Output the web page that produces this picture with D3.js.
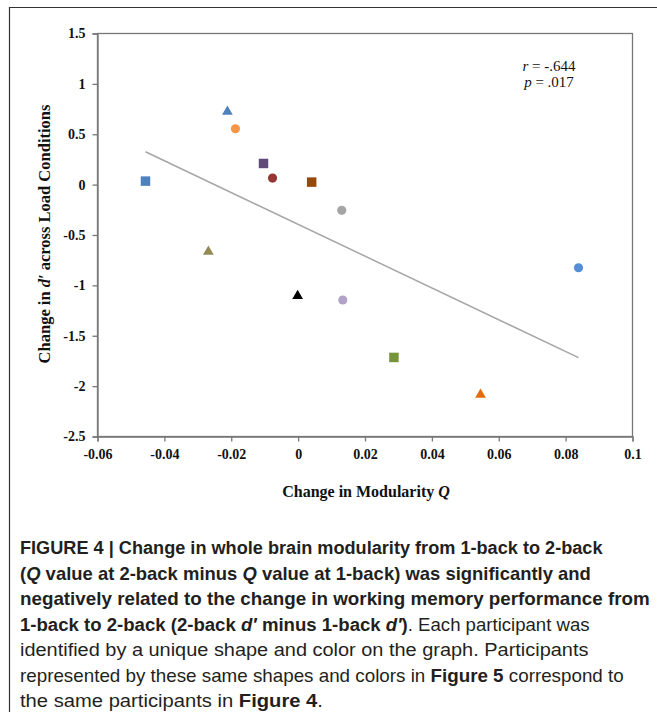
<!DOCTYPE html>
<html>
<head>
<meta charset="utf-8">
<script src="https://cdn.jsdelivr.net/npm/d3@7"></script>
<style>
  html, body { margin: 0; padding: 0; background: #fff; }
  svg { display: block; }
</style>
</head>
<body>
<svg id="fig" width="657" height="712"></svg>
<script>
// participants, one mark each
var qChange = [-0.0455, -0.021, -0.0186, -0.0102, -0.0075, 0.0042, 0.0132, -0.0267, 0.0, 0.0135, 0.0288, 0.0547, 0.084];
var dChange = [0.03, 0.72, 0.55, 0.205, 0.06, 0.02, -0.26, -0.67, -1.11, -1.15, -1.72, -2.09, -0.83];
var shapes  = ['square', 'triangle', 'circle', 'square', 'circle', 'square', 'circle', 'triangle', 'triangle', 'circle', 'square', 'triangle', 'circle'];
var colors  = ['#4f81bd', '#4f81bd', '#f79646', '#604a7b', '#953735', '#984807', '#a5a5a5', '#948a54', '#000000', '#b3a2c7', '#77933c', '#e46c0a', '#558ed5'];

var xTicks = [-0.06, -0.04, -0.02, 0, 0.02, 0.04, 0.06, 0.08, 0.1];
var yTicks = [1.5, 1, 0.5, 0, -0.5, -1, -1.5, -2, -2.5];

var svg = d3.select('#fig');

// outer figure frame (top + left)
svg.append('path').attr('d', 'M9.5,712 V7.5 H657').attr('fill', 'none').attr('stroke', '#333').attr('stroke-width', 1.2);

var pL = 97, pR = 632, pT = 33, pB = 436;
var x = d3.scaleLinear().domain([-0.06, 0.1]).range([pL, pR]);
var y = d3.scaleLinear().domain([-2.5, 1.5]).range([pB, pT]);

// plot box
svg.append('rect').attr('x', pL + 0.5).attr('y', pT + 0.5)
  .attr('width', pR - pL).attr('height', pB - pT)
  .attr('fill', 'none').attr('stroke', '#777').attr('stroke-width', 1.3);

var fmtX = function(d) { return d === 0 ? '0' : String(+d.toFixed(2)); };

var xAxis = svg.append('g').attr('transform', 'translate(0.5,' + (pB + 0.5) + ')')
  .call(d3.axisBottom(x).tickValues(xTicks).tickSize(5).tickPadding(8).tickFormat(fmtX));
var yAxis = svg.append('g').attr('transform', 'translate(' + (pL + 0.5) + ',0.5)')
  .call(d3.axisLeft(y).tickValues(yTicks).tickSize(5).tickPadding(7).tickFormat(function(d) { return String(d); }));

var serif = '"Liberation Serif", "Times New Roman", serif';

[xAxis, yAxis].forEach(function(a) {
  a.select('.domain').attr('stroke', '#777').attr('stroke-width', 1.3);
  a.selectAll('.tick line').attr('stroke', '#777').attr('stroke-width', 1.3);
  a.selectAll('.tick text').attr('fill', '#111')
    .style('font-family', serif)
    .style('font-weight', 'bold').style('font-size', '14px');
});

// least-squares trend line over the data range
var mx = d3.mean(qChange), my = d3.mean(dChange);
var sxy = d3.sum(qChange, function(v, i) { return (v - mx) * (dChange[i] - my); });
var sxx = d3.sum(qChange, function(v) { return (v - mx) * (v - mx); });
var slope = sxy / sxx, icpt = my - slope * mx;
var xr = d3.extent(qChange);
svg.append('line')
  .attr('x1', x(xr[0])).attr('y1', y(icpt + slope * xr[0]))
  .attr('x2', x(xr[1])).attr('y2', y(icpt + slope * xr[1]))
  .attr('stroke', '#a6a6a6').attr('stroke-width', 1.5);

// markers
var symType = { square: d3.symbolSquare, circle: d3.symbolCircle, triangle: d3.symbolTriangle };
var symSize = { square: 90, circle: 66, triangle: 50 };
svg.append('g').selectAll('path').data(qChange).join('path')
  .attr('transform', function(d, i) { return 'translate(' + x(d) + ',' + y(dChange[i]) + ')'; })
  .attr('d', function(d, i) { return d3.symbol().type(symType[shapes[i]]).size(symSize[shapes[i]])(); })
  .attr('fill', function(d, i) { return colors[i]; });

// stats
var st = svg.append('g').style('font-family', serif).style('font-size', '15px').attr('fill', '#111');
var t1 = st.append('text').attr('x', 549).attr('y', 71).attr('text-anchor', 'middle');
t1.append('tspan').style('font-style', 'italic').text('r');
t1.append('tspan').text(' = -.644');
var t2 = st.append('text').attr('x', 549).attr('y', 87).attr('text-anchor', 'middle');
t2.append('tspan').style('font-style', 'italic').text('p');
t2.append('tspan').text(' = .017');

// axis titles
var xt = svg.append('text').attr('x', 366).attr('y', 497).attr('text-anchor', 'middle')
  .style('font-family', serif).style('font-weight', 'bold').style('font-size', '16px').attr('fill', '#111');
xt.append('tspan').text('Change in Modularity ');
xt.append('tspan').style('font-style', 'italic').text('Q');

var yt = svg.append('text').attr('transform', 'translate(50,234) rotate(-90)').attr('text-anchor', 'middle')
  .style('font-family', serif).style('font-weight', 'bold').style('font-size', '16.5px').attr('fill', '#111');
yt.append('tspan').text('Change in ');
yt.append('tspan').style('font-style', 'italic').text('d\u2032');
yt.append('tspan').text(' across Load Conditions');

// caption
var capLines = [
  { w: 583, parts: [['b', 'FIGURE 4 | Change in whole brain modularity from 1-back to 2-back']] },
  { w: 571, parts: [['b', '('], ['bi', 'Q'], ['b', ' value at 2-back minus '], ['bi', 'Q'], ['b', ' value at 1-back) was significantly and']] },
  { w: 630, parts: [['b', 'negatively related to the change in working memory performance from']] },
  { w: 570, parts: [['b', '1-back to 2-back (2-back '], ['bi', 'd\u2032'], ['b', ' minus 1-back '], ['bi', 'd\u2032'], ['b', ')'], ['r', '. Each participant was']] },
  { w: 569, parts: [['r', 'identified by a unique shape and color on the graph. Participants']] },
  { w: 604, parts: [['r', 'represented by these same shapes and colors in '], ['b', 'Figure 5'], ['r', ' correspond to']] },
  { w: 303, parts: [['r', 'the same participants in '], ['b', 'Figure 4'], ['r', '.']] }
];
var cap = svg.append('g').style('font-family', '"Liberation Sans", Arial, sans-serif').style('font-size', '18.5px').attr('fill', '#231f20');
capLines.forEach(function(ln, i) {
  var g = cap.append('g');
  var t = g.append('text').attr('x', 0).attr('y', 0);
  ln.parts.forEach(function(p) {
    var s = t.append('tspan').text(p[1]);
    if (p[0] !== 'r') s.style('font-weight', 'bold');
    if (p[0] === 'bi') s.style('font-style', 'italic');
  });
  var len = t.node().getComputedTextLength();
  g.attr('transform', 'translate(20,' + (554 + i * 25.5) + ') scale(' + (ln.w / len) + ',1)');
});
</script>
</body>
</html>
